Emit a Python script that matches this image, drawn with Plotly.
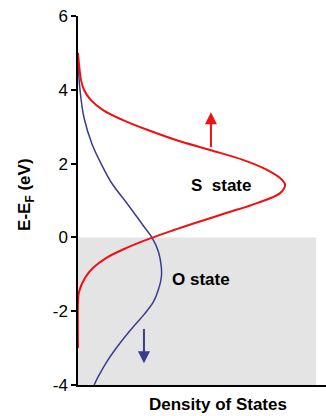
import plotly.graph_objects as go

# Energy (eV) vs density of states (arbitrary units)
s_energy = [5.0, 4.7, 4.27, 4.0, 3.72, 3.45, 3.18, 2.91, 2.64, 2.37, 2.1, 1.83, 1.56, 1.42, 1.2, 0.93, 0.66, 0.39, 0.2, -0.02, -0.29, -0.56, -0.83, -1.1, -1.48, -1.75, -3.0]
s_dos = [0.0, 0.004, 0.012, 0.024, 0.052, 0.101, 0.181, 0.282, 0.395, 0.532, 0.665, 0.762, 0.823, 0.835, 0.815, 0.722, 0.597, 0.472, 0.387, 0.294, 0.194, 0.113, 0.06, 0.028, 0.004, 0.0, 0.0]

o_energy = [4.75, 4.0, 3.25, 2.54, 2.0, 1.46, 0.92, 0.33, 0.0, -0.4, -0.81, -1.08, -1.4, -1.75, -2.1, -2.43, -2.87, -3.32, -3.78, -4.0]
o_dos = [0.0, 0.008, 0.024, 0.056, 0.093, 0.137, 0.198, 0.262, 0.298, 0.325, 0.336, 0.336, 0.325, 0.304, 0.265, 0.222, 0.169, 0.121, 0.081, 0.065]

y_ticks = [-4, -2, 0, 2, 4, 6]

RED = "#f01010"
BLUE = "#3c3c8c"
FONT = "Liberation Sans, Arial, sans-serif"

fig = go.Figure()
fig.add_trace(go.Scatter(x=o_dos, y=o_energy, mode="lines",
                         line=dict(color=BLUE, width=1.5, shape="spline", smoothing=1.0),
                         hoverinfo="skip", showlegend=False))
fig.add_trace(go.Scatter(x=s_dos, y=s_energy, mode="lines",
                         line=dict(color=RED, width=2, shape="spline", smoothing=1.0),
                         hoverinfo="skip", showlegend=False))

# occupied region (below Fermi level)
fig.add_shape(type="rect", xref="x", yref="y", x0=0, x1=0.96, y0=-4, y1=0,
              fillcolor="#e4e4e4", line=dict(width=0), layer="below")

# arrows
fig.add_annotation(x=0.536, y=3.39, ax=0.536, ay=2.41, xref="x", yref="y", axref="x", ayref="y",
                   text="", showarrow=True, arrowhead=2, arrowsize=1.2, arrowwidth=2, arrowcolor=RED)
fig.add_annotation(x=0.266, y=-3.41, ax=0.266, ay=-2.44, xref="x", yref="y", axref="x", ayref="y",
                   text="", showarrow=True, arrowhead=2, arrowsize=1.2, arrowwidth=2, arrowcolor=BLUE)

# labels
fig.add_annotation(x=0.577, y=1.42, xref="x", yref="y", text="<b>S\u00a0\u00a0state</b>",
                   showarrow=False, font=dict(family=FONT, size=17, color="black"))
fig.add_annotation(x=0.496, y=-1.13, xref="x", yref="y", text="<b>O state</b>",
                   showarrow=False, font=dict(family=FONT, size=17, color="black"))

# axis titles
fig.add_annotation(x=-0.21, y=1.15, xref="paper", yref="y", text="<b>E-E<sub>F</sub> (eV)</b>",
                   textangle=-90, showarrow=False, xanchor="center", yanchor="middle",
                   font=dict(family=FONT, size=17, color="black"))
fig.add_annotation(x=0.565, y=-0.052, xref="paper", yref="paper", text="<b>Density of States</b>",
                   showarrow=False, xanchor="center", yanchor="middle",
                   font=dict(family=FONT, size=17, color="black"))

fig.update_xaxes(range=[0, 1], showline=True, linecolor="black", linewidth=1.5,
                 showticklabels=False, ticks="", showgrid=False, zeroline=False)
fig.update_yaxes(range=[-4, 6], tickvals=y_ticks, ticktext=[str(v) for v in y_ticks],
                 ticks="outside", ticklen=5, tickwidth=1.5, tickcolor="black",
                 showline=True, linecolor="black", linewidth=1.5,
                 showgrid=False, zeroline=False,
                 tickfont=dict(family=FONT, size=17, color="black"))

fig.update_layout(width=326, height=416, margin=dict(l=78, r=0, t=16, b=31),
                  plot_bgcolor="white", paper_bgcolor="white")

fig.write_html("out.html")
